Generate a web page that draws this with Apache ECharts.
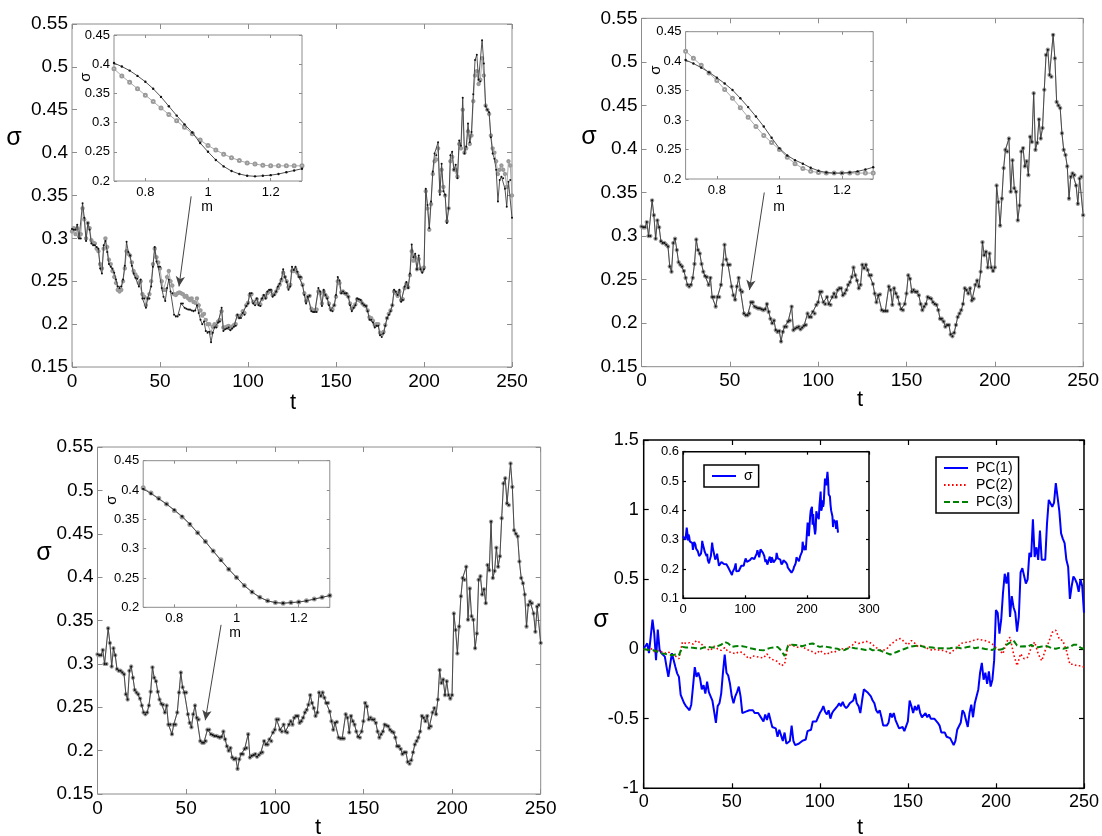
<!DOCTYPE html>
<html><head><meta charset="utf-8">
<script src="https://cdn.jsdelivr.net/npm/echarts@6.0.0/dist/echarts.min.js"></script>
<style>html,body{margin:0;padding:0;background:#fff}#c{width:1102px;height:836px}</style>
</head><body><div id="c"></div>
<script>
// ---------------- DATA ----------------
// daily implied volatility sigma, t = 0..250 (market, black dots)
const sigmaMarket = [
0.311,0.310,0.310,0.316,0.300,0.300,0.341,0.324,0.297,0.318,
0.310,0.294,0.292,0.292,0.290,0.288,0.265,0.259,0.292,0.297,
0.284,0.270,0.267,0.265,0.260,0.252,0.244,0.242,0.244,0.252,
0.268,0.296,0.284,0.280,0.268,0.259,0.254,0.253,0.244,0.252,
0.230,0.230,0.219,0.230,0.230,0.244,0.267,0.290,0.273,0.267,
0.267,0.242,0.232,0.227,0.242,0.252,0.238,0.236,0.211,0.209,
0.209,0.211,0.224,0.224,0.219,0.218,0.217,0.217,0.216,0.215,
0.216,0.222,0.213,0.205,0.200,0.203,0.192,0.190,0.191,0.179,
0.190,0.196,0.196,0.202,0.203,0.219,0.192,0.194,0.195,0.196,
0.193,0.195,0.197,0.198,0.211,0.207,0.207,0.213,0.211,0.221,
0.224,0.236,0.236,0.224,0.222,0.230,0.222,0.221,0.230,0.234,
0.230,0.238,0.240,0.240,0.232,0.234,0.238,0.244,0.247,0.253,
0.264,0.255,0.249,0.240,0.244,0.267,0.263,0.267,0.261,0.255,
0.255,0.245,0.234,0.224,0.232,0.233,0.215,0.214,0.214,0.214,
0.242,0.238,0.221,0.240,0.234,0.230,0.222,0.216,0.215,0.222,
0.234,0.255,0.251,0.236,0.238,0.236,0.236,0.232,0.222,0.215,
0.219,0.222,0.230,0.229,0.228,0.224,0.222,0.221,0.215,0.205,
0.205,0.202,0.196,0.198,0.198,0.187,0.185,0.189,0.198,0.207,
0.211,0.215,0.222,0.240,0.238,0.234,0.240,0.226,0.228,0.244,
0.249,0.242,0.259,0.293,0.278,0.282,0.264,0.280,0.264,0.260,
0.264,0.358,0.339,0.312,0.343,0.378,0.399,0.397,0.412,0.351,
0.387,0.355,0.351,0.318,0.335,0.397,0.401,0.380,0.386,0.370,
0.414,0.408,0.464,0.399,0.407,0.434,0.412,0.424,0.468,0.508,
0.514,0.485,0.483,0.531,0.504,0.454,0.450,0.447,0.418,0.399,
0.393,0.380,0.343,0.368,0.372,0.370,0.358,0.337,0.366,0.368,
0.324];
// model-fitted sigma in the first panel (grey circles)
const sigmaFit1 = [
0.308,0.312,0.305,0.312,0.302,0.305,0.335,0.322,0.300,0.318,
0.312,0.298,0.295,0.294,0.288,0.285,0.270,0.265,0.288,0.300,
0.290,0.275,0.270,0.262,0.255,0.248,0.240,0.238,0.240,0.250,
0.265,0.285,0.282,0.280,0.272,0.262,0.258,0.255,0.248,0.250,
0.235,0.232,0.222,0.230,0.235,0.250,0.270,0.288,0.278,0.272,
0.265,0.250,0.240,0.240,0.255,0.262,0.250,0.245,0.235,0.234,
0.236,0.237,0.236,0.235,0.232,0.233,0.230,0.228,0.230,0.226,
0.225,0.230,0.222,0.216,0.210,0.212,0.205,0.200,0.200,0.190,
0.197,0.200,0.198,0.203,0.205,0.215,0.196,0.196,0.197,0.198,
0.195,0.197,0.199,0.200,0.210,0.208,0.210,0.215,0.213,0.222,
0.225,0.234,0.235,0.226,0.224,0.229,0.224,0.223,0.229,0.233,
0.231,0.236,0.238,0.239,0.234,0.235,0.238,0.242,0.246,0.251,
0.260,0.255,0.250,0.243,0.246,0.262,0.262,0.264,0.260,0.256,
0.254,0.246,0.236,0.227,0.232,0.233,0.218,0.216,0.216,0.217,
0.238,0.236,0.224,0.238,0.234,0.231,0.224,0.218,0.217,0.222,
0.232,0.250,0.248,0.237,0.238,0.236,0.235,0.232,0.224,0.218,
0.220,0.223,0.229,0.228,0.227,0.224,0.222,0.221,0.216,0.208,
0.207,0.204,0.199,0.200,0.200,0.190,0.188,0.191,0.199,0.207,
0.212,0.216,0.222,0.238,0.236,0.233,0.238,0.228,0.229,0.242,
0.247,0.243,0.257,0.285,0.274,0.278,0.264,0.276,0.265,0.262,
0.266,0.355,0.335,0.310,0.340,0.375,0.390,0.392,0.405,0.355,
0.380,0.360,0.350,0.320,0.335,0.390,0.395,0.380,0.380,0.372,
0.410,0.405,0.450,0.400,0.405,0.425,0.410,0.420,0.460,0.490,
0.495,0.480,0.485,0.510,0.490,0.455,0.450,0.445,0.420,0.405,
0.400,0.390,0.375,0.380,0.385,0.380,0.375,0.360,0.390,0.385,
0.350];
// smile insets: moneyness m and sigma
const moneyness = [0.7,0.725,0.75,0.775,0.8,0.825,0.85,0.875,0.9,0.925,0.95,0.975,1.0,1.025,1.05,1.075,1.1,1.125,1.15,1.175,1.2,1.225,1.25,1.275,1.3];
const smile1Black = [0.402,0.396,0.389,0.380,0.370,0.358,0.344,0.328,0.312,0.297,0.283,0.265,0.250,0.236,0.225,0.217,0.212,0.209,0.208,0.209,0.210,0.212,0.215,0.218,0.221];
const smile1Grey  = [0.392,0.380,0.369,0.358,0.347,0.336,0.325,0.314,0.303,0.292,0.281,0.270,0.261,0.253,0.246,0.240,0.235,0.231,0.229,0.227,0.226,0.226,0.226,0.226,0.226];
const smile2Black = [0.402,0.396,0.389,0.381,0.372,0.362,0.351,0.337,0.322,0.306,0.289,0.270,0.252,0.240,0.232,0.226,0.219,0.214,0.211,0.210,0.210,0.211,0.213,0.216,0.220];
const smile2Grey  = [0.417,0.405,0.393,0.380,0.367,0.352,0.337,0.321,0.305,0.289,0.274,0.262,0.250,0.237,0.226,0.218,0.213,0.211,0.210,0.210,0.210,0.210,0.210,0.210,0.210];
const smile3Black = [0.402,0.394,0.385,0.376,0.366,0.355,0.342,0.327,0.312,0.296,0.280,0.265,0.251,0.237,0.226,0.217,0.211,0.208,0.207,0.208,0.209,0.211,0.214,0.217,0.220];
const smile3Grey  = [0.404,0.395,0.386,0.376,0.365,0.354,0.341,0.327,0.312,0.296,0.281,0.265,0.251,0.237,0.226,0.217,0.211,0.208,0.207,0.208,0.209,0.211,0.214,0.217,0.220];
// principal components (PC1 daily, PC2/PC3 every 2 days)
const pc1 = [
0.005,0.02,0.04,-0.03,-0.03,0.21,0.11,-0.08,0.14,-0.005,
-0.03,-0.03,-0.055,-0.13,-0.2,-0.2,-0.03,-0.03,-0.13,-0.175,
-0.2,-0.33,-0.34,-0.39,-0.41,-0.425,-0.44,-0.4,-0.27,-0.13,
-0.2,-0.17,-0.21,-0.29,-0.26,-0.32,-0.235,-0.31,-0.32,-0.37,
-0.45,-0.53,-0.41,-0.39,-0.32,-0.17,-0.04,-0.17,-0.19,-0.25,
-0.34,-0.39,-0.34,-0.31,-0.27,-0.34,-0.46,-0.46,-0.45,-0.46,
-0.44,-0.45,-0.44,-0.46,-0.46,-0.46,-0.46,-0.5,-0.52,-0.47,
-0.51,-0.46,-0.51,-0.56,-0.55,-0.57,-0.63,-0.58,-0.62,-0.66,
-0.6,-0.68,-0.69,-0.66,-0.55,-0.66,-0.69,-0.7,-0.68,-0.68,
-0.66,-0.66,-0.65,-0.59,-0.59,-0.58,-0.52,-0.53,-0.52,-0.49,
-0.46,-0.44,-0.41,-0.45,-0.47,-0.44,-0.5,-0.46,-0.44,-0.44,
-0.41,-0.39,-0.41,-0.38,-0.41,-0.425,-0.41,-0.39,-0.38,-0.37,
-0.32,-0.39,-0.41,-0.46,-0.37,-0.29,-0.29,-0.31,-0.32,-0.34,
-0.37,-0.39,-0.44,-0.46,-0.44,-0.49,-0.55,-0.55,-0.55,-0.53,
-0.46,-0.49,-0.46,-0.51,-0.52,-0.57,-0.58,-0.56,-0.59,-0.59,
-0.52,-0.37,-0.41,-0.46,-0.41,-0.44,-0.4,-0.46,-0.49,-0.5,
-0.46,-0.49,-0.47,-0.5,-0.49,-0.5,-0.51,-0.53,-0.55,-0.6,
-0.59,-0.6,-0.63,-0.62,-0.64,-0.63,-0.69,-0.66,-0.58,-0.57,
-0.53,-0.44,-0.46,-0.46,-0.56,-0.46,-0.4,-0.49,-0.39,-0.4,
-0.29,-0.17,-0.1,-0.22,-0.17,-0.25,-0.16,-0.27,-0.22,-0.08,
0.28,0.26,0.11,0.21,0.4,0.54,0.47,0.55,0.23,0.38,
0.3,0.26,0.125,0.23,0.55,0.58,0.59,0.47,0.5,0.69,
0.66,0.93,0.66,0.73,0.64,0.85,0.64,0.64,0.64,0.9,
1.07,1.08,1.02,1.05,1.19,1.09,0.99,0.83,0.79,0.76,
0.64,0.59,0.36,0.45,0.52,0.5,0.47,0.41,0.5,0.45,
0.26];
const pcStep = 2;
const pc2 = [
0,-0.01,0.005,-0.02,-0.01,-0.02,-0.03,-0.02,-0.04,-0.05,
-0.07,0.05,0.04,0.045,0.035,0.06,0.045,0.02,0.0,-0.01,
0.02,0.0,-0.01,0.01,-0.02,-0.025,-0.035,-0.02,-0.025,-0.05,
-0.07,-0.05,-0.055,-0.06,-0.065,-0.035,-0.07,-0.08,-0.09,-0.12,
-0.11,0.03,0.025,0.02,0.01,0.02,0.0,-0.01,-0.02,-0.035,
-0.01,-0.03,-0.04,-0.02,-0.025,-0.01,0.005,-0.005,0.01,0.02,
0.05,0.04,0.045,0.055,0.05,0.03,0.01,-0.005,-0.01,0.0,
0.03,0.05,0.07,0.075,0.05,0.03,0.06,0.04,0.015,0.03,
0.01,0.0,-0.01,0.0,-0.01,-0.01,-0.02,-0.03,-0.01,0.01,
0.04,0.045,0.05,0.055,0.065,0.07,0.065,0.06,0.05,0.035,
0.01,-0.01,-0.035,0.05,0.085,-0.035,-0.12,-0.035,-0.07,-0.06,
0.01,0.05,-0.035,-0.085,-0.01,0.05,0.12,0.135,0.07,0.06,
-0.01,-0.11,-0.11,-0.12,-0.12,-0.13];
const pc3 = [
0,-0.005,-0.01,-0.01,-0.02,-0.03,-0.035,-0.04,-0.045,-0.04,
-0.045,0.015,0.01,0.012,0.008,0.005,0.002,0.01,0.015,0.012,
0.01,0.02,0.03,0.05,0.04,0.015,0.02,0.022,0.02,0.015,
0.005,0.002,-0.005,-0.008,-0.01,0.0,0.008,0.012,0.015,-0.01,
-0.05,0.025,0.03,0.028,0.025,0.02,0.028,0.035,0.04,0.025,
0.015,0.02,0.015,0.01,0.005,0.002,-0.01,-0.008,0.005,0.01,
0.005,0.002,-0.002,-0.007,0.005,-0.01,-0.005,-0.01,-0.02,-0.03,
-0.04,-0.03,-0.02,-0.008,0.0,0.01,0.018,0.022,0.025,0.02,
0.01,0.012,0.01,0.006,0.005,0.005,0.003,0.006,0.01,0.01,
0.005,0.008,0.015,0.018,0.005,0.01,0.005,0.0,-0.003,-0.007,
0.007,-0.005,0.0,0.03,0.045,0.06,0.025,0.018,0.02,0.015,
0.03,0.015,0.012,0.018,0.025,0.015,0.005,0.002,0.008,0.002,
0.007,0.015,0.03,0.03,0.01,0.0];

// ---------------- BUILD ----------------
const FONT = '"Liberation Sans", Arial, Helvetica, sans-serif';
const days = sigmaMarket.map((_, i) => i);
const pairs = (xs, ys) => ys.map((v, i) => [xs[i], v]);
const stepPairs = (ys, step) => ys.map((v, i) => [i * step, v]);

const grids = [], xAxes = [], yAxes = [], series = [];
function addGrid(rect, o) {
  const gi = grids.length;
  grids.push({left: rect[0], top: rect[1], width: rect[2], height: rect[3], show: true,
    borderColor: o.frame, borderWidth: o.frameWidth, backgroundColor: '#fff', z: o.z, containLabel: false});
  const tick = (custom) => Object.assign({show: true, inside: true, length: o.tickLen,
    lineStyle: {color: o.frame, width: o.frameWidth > 1 ? 1.2 : 1}}, custom ? {customValues: custom} : {});
  const label = (margin, custom) => Object.assign({show: true, color: '#000', fontSize: o.fs, fontFamily: FONT,
    margin: margin, showMinLabel: true, showMaxLabel: true}, custom ? {customValues: custom} : {});
  const line = {show: false, onZero: false};
  const xb = {type: 'value', gridIndex: gi, min: o.x[0], max: o.x[1], interval: o.x[2],
    axisLine: line, splitLine: {show: false}, z: o.z + 1};
  const yb = {type: 'value', gridIndex: gi, min: o.y[0], max: o.y[1], interval: o.y[2],
    axisLine: line, splitLine: {show: false}, z: o.z + 1};
  xAxes.push(Object.assign({}, xb, {position: 'bottom', axisTick: tick(o.xCustom), axisLabel: label(o.xMargin, o.xCustom)}));
  xAxes.push(Object.assign({}, xb, {position: 'top', axisTick: tick(o.xCustom), axisLabel: {show: false}}));
  yAxes.push(Object.assign({}, yb, {position: 'left', axisTick: tick(), axisLabel: label(o.yMargin)}));
  yAxes.push(Object.assign({}, yb, {position: 'right', axisTick: tick(), axisLabel: {show: false}}));
  return gi;
}

const mainGrey = {frame: '#8c8c8c', frameWidth: 1, z: 0, tickLen: 5, fs: 19, xMargin: 5, yMargin: 4,
  x: [0, 250, 50], y: [0.15, 0.55, 0.05]};
const insetGrey = {frame: '#8c8c8c', frameWidth: 1, z: 5, tickLen: 3, fs: 13, xMargin: 5, yMargin: 4,
  x: [0.7, 1.3, 0.1], xCustom: [0.8, 1.0, 1.2], y: [0.2, 0.45, 0.05]};

const panels = [
  {main: [72, 24, 440, 343], inset: [114, 35, 188, 146], fit: sigmaFit1,
   smileB: smile1Black, smileG: smile1Grey, arrow: [[67.7, 0.349], [60.8, 0.244]]},
  {main: [641.5, 18.3, 443.5, 348.4], inset: [685.6, 31.7, 187.6, 147.3], fit: sigmaMarket,
   smileB: smile2Black, smileG: smile2Grey, arrow: [[69.5, 0.35], [61.1, 0.238]]},
  {main: [97.5, 447, 443.2, 347], inset: [143.2, 460.7, 186.6, 146.6], fit: sigmaMarket,
   smileB: smile3Black, smileG: smile3Grey, arrow: [[69.7, 0.345], [60.8, 0.235]]}
];

const dotStyle = (z, size) => ({type: 'line', symbol: 'circle', symbolSize: size, showAllSymbol: true,
  lineStyle: {color: '#404040', width: 0.9}, itemStyle: {color: '#111'}, emphasis: {disabled: true}, silent: true, z: z});
const circStyle = (z, size) => ({type: 'line', symbol: 'emptyCircle', symbolSize: size, showAllSymbol: true,
  lineStyle: {color: '#a0a0a0', width: 0.9}, itemStyle: {color: '#9a9a9a', borderWidth: 0.7}, emphasis: {disabled: true}, silent: true, z: z});

panels.forEach((p, k) => {
  const gm = addGrid(p.main, mainGrey);
  series.push(Object.assign(circStyle(2, 2.4), {name: 'fit' + k, xAxisIndex: 2 * gm, yAxisIndex: 2 * gm, data: pairs(days, p.fit)}));
  series.push(Object.assign(dotStyle(3, 2), {name: 'mkt' + k, xAxisIndex: 2 * gm, yAxisIndex: 2 * gm, data: pairs(days, sigmaMarket),
    markLine: {silent: true, symbol: ['none', 'arrow'], symbolSize: [7, 10], animation: false,
      lineStyle: {color: '#444', width: 1, type: 'solid'}, label: {show: false}, emphasis: {disabled: true},
      data: [[{coord: p.arrow[0]}, {coord: p.arrow[1]}]]}}));
  const gi = addGrid(p.inset, insetGrey);
  series.push(Object.assign(circStyle(7, 3), {name: 'smileG' + k, xAxisIndex: 2 * gi, yAxisIndex: 2 * gi, data: pairs(moneyness, p.smileG)}));
  series.push(Object.assign(dotStyle(8, 2.4), {name: 'smileB' + k, xAxisIndex: 2 * gi, yAxisIndex: 2 * gi, data: pairs(moneyness, p.smileB)}));
});

// panel 4
const g4 = addGrid([643.7, 440, 441.3, 348.3], {frame: '#000', frameWidth: 1.5, z: 0, tickLen: 5, fs: 18,
  xMargin: 5, yMargin: 5, x: [0, 250, 50], y: [-1, 1.5, 0.5]});
series.push({type: 'line', name: 'PC(1)', xAxisIndex: 2 * g4, yAxisIndex: 2 * g4, symbol: 'none', silent: true,
  lineStyle: {color: '#0000ff', width: 2}, itemStyle: {color: '#0000ff'}, z: 2, data: pairs(days, pc1)});
series.push({type: 'line', name: 'PC(2)', xAxisIndex: 2 * g4, yAxisIndex: 2 * g4, symbol: 'none', silent: true,
  lineStyle: {color: '#ff0000', width: 1.6, type: [1.6, 2.4]}, itemStyle: {color: '#ff0000'}, z: 3, data: stepPairs(pc2, pcStep)});
series.push({type: 'line', name: 'PC(3)', xAxisIndex: 2 * g4, yAxisIndex: 2 * g4, symbol: 'none', silent: true,
  lineStyle: {color: '#008000', width: 2, type: [6, 3]}, itemStyle: {color: '#008000'}, z: 4, data: stepPairs(pc3, pcStep)});
const g4i = addGrid([683, 451.7, 186, 146.6], {frame: '#000', frameWidth: 1.5, z: 5, tickLen: 3, fs: 13,
  xMargin: 5, yMargin: 4, x: [0, 300, 100], y: [0.1, 0.6, 0.1]});
series.push({type: 'line', name: 'σ', xAxisIndex: 2 * g4i, yAxisIndex: 2 * g4i, symbol: 'none', silent: true,
  lineStyle: {color: '#0000ff', width: 2}, itemStyle: {color: '#0000ff'}, z: 8, data: pairs(days, sigmaMarket)});

const axisTitles = [
  {text: 'σ', x: 14, y: 138, size: 25}, {text: 't', x: 293, y: 403, size: 22},
  {text: 'σ', x: 589, y: 137, size: 25}, {text: 't', x: 860, y: 400, size: 22},
  {text: 'σ', x: 44, y: 553, size: 25}, {text: 't', x: 318, y: 828, size: 22},
  {text: 'σ', x: 601, y: 620, size: 25}, {text: 't', x: 860, y: 828, size: 22},
  {text: 'σ', x: 86, y: 77, size: 15, rot: true}, {text: 'm', x: 207, y: 207, size: 14},
  {text: 'σ', x: 656, y: 70, size: 15, rot: true}, {text: 'm', x: 779, y: 207, size: 14},
  {text: 'σ', x: 112, y: 500, size: 15, rot: true}, {text: 'm', x: 235, y: 633, size: 14}
];

const hiddenSymbol = {color: 'rgba(0,0,0,0)', borderWidth: 0, borderColor: 'rgba(0,0,0,0)', opacity: 0};
const legendItem = (name) => ({name: name, itemStyle: hiddenSymbol});
const legendBase = {orient: 'vertical', itemWidth: 24, itemHeight: 12, itemGap: 3, selectedMode: false,
  borderColor: '#000', borderWidth: 1.5, borderRadius: 0, backgroundColor: '#fff', z: 20,
  itemStyle: hiddenSymbol,
  textStyle: {fontSize: 14, fontFamily: FONT, color: '#000', padding: [0, 0, 0, 3]}};

const option = {
  animation: false,
  backgroundColor: '#fff',
  grid: grids, xAxis: xAxes, yAxis: yAxes, series: series,
  legend: [
    Object.assign({}, legendBase, {data: ['PC(1)', 'PC(2)', 'PC(3)'].map(legendItem), left: 936, top: 457, padding: [4, 6, 4, 7]}),
    Object.assign({}, legendBase, {data: ['σ'].map(legendItem), left: 704, top: 465, padding: [4, 6, 4, 7]})
  ],
  graphic: axisTitles.map(a => ({type: 'text', x: a.x, y: a.y, rotation: a.rot ? Math.PI / 2 : 0, z: 30, silent: true,
    style: {text: a.text, fontSize: a.size, fontFamily: FONT, fill: '#000', align: 'center', verticalAlign: 'middle'}}))
};

const chart = echarts.init(document.getElementById('c'), null, {renderer: 'canvas'});
chart.setOption(option);
</script>
</body></html>
